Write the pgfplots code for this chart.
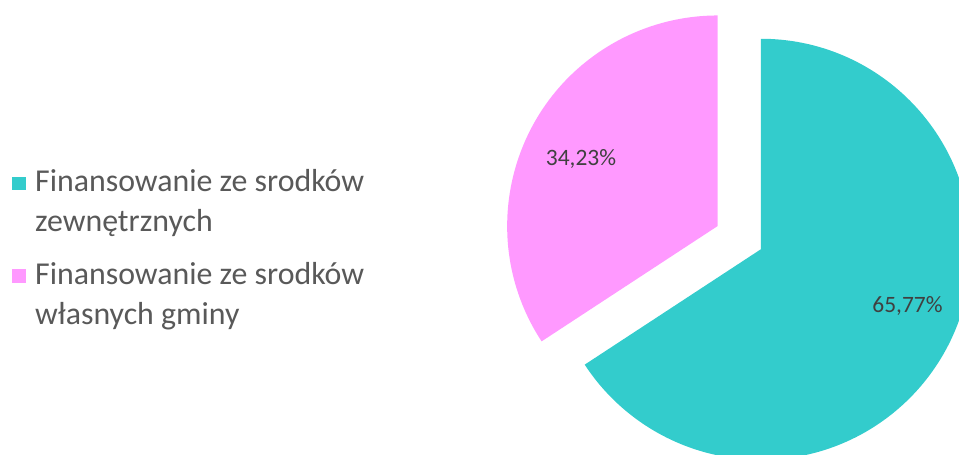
\documentclass[border=0pt]{standalone}
\usepackage{fontspec}
\setmainfont{Carlito}
\usepackage{pgfplots}
\usepackage{pgfplotstable}
\pgfplotsset{compat=1.18}
\definecolor{pieTeal}{HTML}{33CCCC}
\definecolor{piePink}{HTML}{FF99FF}
\definecolor{legtext}{HTML}{595959}
\definecolor{labtext}{HTML}{404040}

% shares in percent, clockwise from 12 o'clock
\pgfplotstableread{
share
65.77
34.23
}\shares

\newcommand{\twolines}[2]{\begin{tabular}[t]{@{}l@{}}#1\\#2\end{tabular}}

\begin{document}
\begin{tikzpicture}
\pgfplotstablegetelem{0}{share}\of\shares \let\sA\pgfplotsretval
\pgfplotstablegetelem{1}{share}\of\shares \let\sB\pgfplotsretval
\pgfmathsetmacro{\aEnd}{90-3.6*\sA}
\pgfmathsetmacro{\bEnd}{\aEnd-3.6*\sB}
\pgfmathsetmacro{\aMid}{90-1.8*\sA}
% pie centre and radius in axis units (1 unit = 0.75pt)
\def\cx{717.7}\def\cy{228}
\def\rad{157.9pt}
\pgfmathsetmacro{\tx}{\cx+49*cos(\aMid)}
\pgfmathsetmacro{\ty}{\cy+49*sin(\aMid)}
\begin{axis}[
  scale only axis, width=719.25pt, height=340.5pt,
  xmin=0, xmax=959, ymin=0, ymax=454,
  hide axis, clip=true,
  legend style={draw=none, fill=none, inner sep=0pt, outer sep=0pt,
    at={(0.0122,0.638)}, anchor=north west,
    font=\fontsize{23.9}{29.6}\selectfont, text=legtext,
    cells={anchor=base west},
    nodes={inner sep=0pt},
    column sep=7.5pt, row sep=47.4pt},
]
\addlegendimage{legend image code/.code={\fill[pieTeal] (0pt,1.9pt) rectangle (9.7pt,11.3pt);}}
\addlegendentry{\twolines{Finansowanie ze srodków}{zewnętrznych}}
\addlegendimage{legend image code/.code={\fill[piePink] (0pt,1.9pt) rectangle (9.7pt,11.3pt);}}
\addlegendentry{\twolines{Finansowanie ze srodków}{własnych gminy}}

\fill[pieTeal] (axis cs:\tx,\ty) -- ++(90:\rad) arc[start angle=90, end angle=\aEnd, radius=\rad] -- cycle;
\fill[piePink] (axis cs:\cx,\cy) -- ++(\aEnd:\rad) arc[start angle=\aEnd, end angle=\bEnd, radius=\rad] -- cycle;

\node[text=labtext, font=\fontsize{17.6}{21}\selectfont] at (axis cs:581,295) {34,23\%};
\node[text=labtext, font=\fontsize{17.6}{21}\selectfont] at (axis cs:907.5,148) {65,77\%};
\end{axis}
\pgfresetboundingbox
\path[use as bounding box] (current axis.south west) rectangle (current axis.north east);
\end{tikzpicture}
\end{document}
